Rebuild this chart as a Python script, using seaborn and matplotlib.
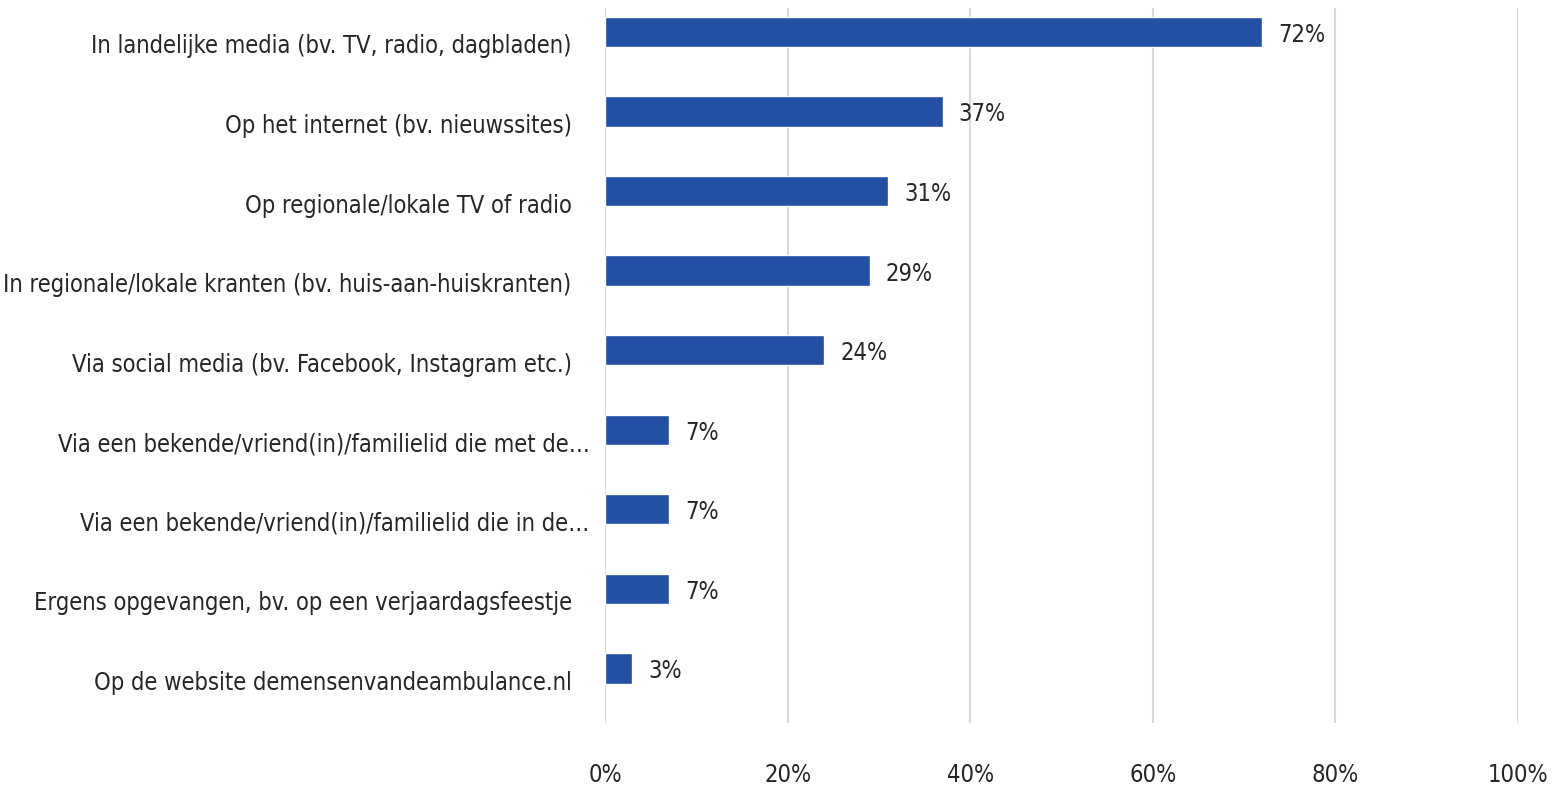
import matplotlib
matplotlib.use("Agg")
import matplotlib.pyplot as plt
import matplotlib.transforms as mtransforms
import seaborn as sns
import pandas as pd
from matplotlib.ticker import FuncFormatter

# categories and percentages
categories = [
    "In landelijke media (bv. TV, radio, dagbladen)",
    "Op het internet (bv. nieuwssites)",
    "Op regionale/lokale TV of radio",
    "In regionale/lokale kranten (bv. huis-aan-huiskranten)",
    "Via social media (bv. Facebook, Instagram etc.)",
    "Via een bekende/vriend(in)/familielid die met de…",
    "Via een bekende/vriend(in)/familielid die in de…",
    "Ergens opgevangen, bv. op een verjaardagsfeestje",
    "Op de website demensenvandeambulance.nl",
]
values = [72, 37, 31, 29, 24, 7, 7, 7, 3]
xticks = [0, 20, 40, 60, 80, 100]

df = pd.DataFrame({"category": categories, "value": values})

sns.set_theme(style="white")
plt.rcParams["font.family"] = ["DejaVu Sans"]
plt.rcParams["font.stretch"] = "condensed"

bar_color = "#2350A3"
text_color = "#262626"

fig = plt.figure(figsize=(15.55, 7.86), dpi=100)
ax = fig.add_axes([605 / 1555, 1 - 723 / 786, (1518 - 605) / 1555, (723 - 8) / 786])

sns.barplot(data=df, x="value", y="category", orient="h", color=bar_color,
            width=0.38, saturation=1, ax=ax)

ax.set_xlim(0, 100)
ax.set_ylim(8.685, -0.30)
ax.set_xticks(xticks)
ax.xaxis.set_major_formatter(FuncFormatter(lambda v, p: f"{v:.0f}%"))
ax.grid(axis="x", color="#D9D9D9", linewidth=1.5)
ax.set_axisbelow(True)
for s in ax.spines.values():
    s.set_visible(False)

ax.set_xlabel("")
ax.set_ylabel("")
ax.tick_params(axis="x", length=0, pad=29, labelsize=17, labelcolor=text_color)
ax.tick_params(axis="y", length=0, pad=24, labelsize=17, labelcolor=text_color)

# category labels sit a bit below the bar centre; truncated ones reach further right
for lab in ax.get_yticklabels():
    dx = 0.18 if lab.get_text().endswith("…") else 0
    lab.set_transform(lab.get_transform() +
                      mtransforms.ScaledTranslation(dx, -0.12, fig.dpi_scale_trans))

for i, v in enumerate(values):
    ax.annotate(f"{v}%", (v, i), xytext=(16, -3), textcoords="offset pixels",
                va="center", ha="left", fontsize=17, color=text_color)

fig.savefig("out.png", dpi=100)
